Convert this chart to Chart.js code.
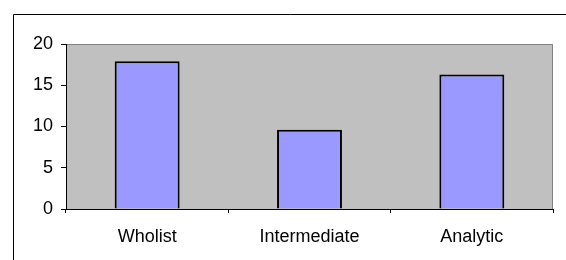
<!DOCTYPE html>
<html>
<head>
<meta charset="utf-8">
<script src="https://cdn.jsdelivr.net/npm/chart.js@4/dist/chart.umd.min.js"></script>
<style>
html,body{margin:0;padding:0;background:#fff;}
#wrap{width:566px;height:260px;position:relative;}
</style>
</head>
<body>
<div id="wrap"><canvas id="c" width="566" height="260"></canvas></div>
<script>
const categories = ["Wholist", "Intermediate", "Analytic"];
const values = [17.9, 9.6, 16.3];
const yTicks = [0, 5, 10, 15, 20];

const frame = {
  id: 'frame',
  beforeDraw(chart) {
    const ctx = chart.ctx, a = chart.chartArea;
    ctx.save();
    ctx.fillStyle = '#C0C0C0';
    ctx.fillRect(a.left, a.top, a.right - a.left, a.bottom - a.top);
    ctx.strokeStyle = '#808080';
    ctx.lineWidth = 1;
    ctx.beginPath();
    ctx.moveTo(a.left, a.top + 0.5);
    ctx.lineTo(a.right - 0.5, a.top + 0.5);
    ctx.lineTo(a.right - 0.5, a.bottom);
    ctx.stroke();
    ctx.strokeStyle = '#000';
    ctx.beginPath();
    ctx.moveTo(13.5, 270);
    ctx.lineTo(13.5, 14.5);
    ctx.lineTo(570, 14.5);
    ctx.stroke();
    ctx.restore();
  }
};

new Chart(document.getElementById('c'), {
  type: 'bar',
  data: {
    labels: categories,
    datasets: [{
      data: values,
      backgroundColor: '#9999FF',
      borderColor: '#000',
      borderWidth: 2,
      categoryPercentage: 1,
      barPercentage: 0.4
    }]
  },
  options: {
    responsive: false,
    animation: false,
    events: [],
    layout: { padding: { left: 0, top: 44, right: 13, bottom: 0 } },
    plugins: { legend: { display: false }, tooltip: { enabled: false } },
    scales: {
      x: {
        offset: true,
        grid: { offset: true, drawOnChartArea: false, drawTicks: true, tickLength: 4, color: '#000' },
        border: { color: '#000', width: 1 },
        ticks: { color: '#000', font: { family: 'Liberation Sans', size: 18 }, padding: 13, maxRotation: 0 },
        afterFit(s) { s.height = 51; }
      },
      y: {
        min: 0, max: 20,
        afterBuildTicks(s) { s.ticks = yTicks.map(v => ({ value: v })); },
        grid: { drawOnChartArea: false, drawTicks: true, tickLength: 5, color: '#000' },
        border: { color: '#000', width: 1 },
        ticks: { color: '#000', font: { family: 'Liberation Sans', size: 18 }, padding: 8 },
        afterFit(s) { s.width = 66; }
      }
    }
  },
  plugins: [frame]
});
</script>
</body>
</html>
